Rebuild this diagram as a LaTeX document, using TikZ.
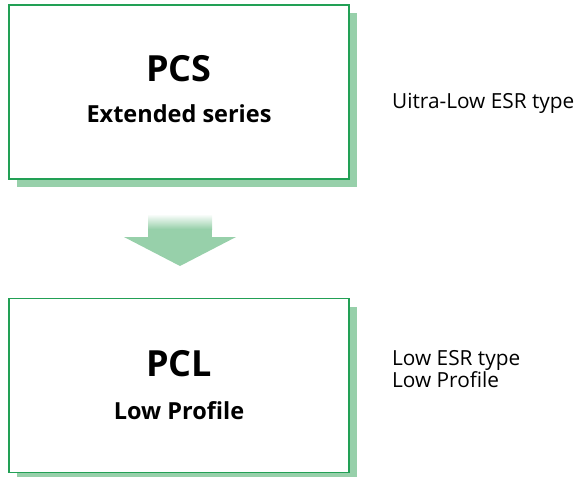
\documentclass[tikz,border=0pt]{standalone}
\usepackage{fontspec}
\setmainfont{Open Sans}
\usepackage{xcolor}
\usetikzlibrary{shadows, positioning}

\definecolor{lineagreen}{HTML}{22A055}
\definecolor{sombragreen}{HTML}{97D0AA}

\tikzset{
  serie/.style={draw=lineagreen, line width=1.3pt, fill=white, minimum width=340pt, minimum height=174pt,
    drop shadow={shadow xshift=8pt, shadow yshift=-8pt, fill=sombragreen, opacity=1}},
  titulo/.style={anchor=base, inner sep=0pt, font=\fontsize{36}{40}\selectfont\bfseries},
  subtitulo/.style={anchor=base, inner sep=0pt, font=\fontsize{23.5}{26}\selectfont\bfseries},
  nota/.style={anchor=base west, inner sep=0pt, align=left, font=\fontsize{20.8}{21.5}\selectfont}
}

\begin{document}
\begin{tikzpicture}[x=1pt, y=-1pt]
			
			\useasboundingbox (0,0) rectangle (579,477);
			
			% Cajas de las series
			\node[serie] (pcs) at (179,92) {};
			\node[serie] (pcl) at (179,385.5) {};
			
			% Flecha
			\shade[top color=white, bottom color=sombragreen] (148,214) rectangle (212,229);
			\fill[sombragreen] (148,228.5) rectangle (212,237.5);
			\fill[sombragreen] (124,237) -- (236,237) -- (180,266) -- cycle;
			
			% Textos de las cajas
			\node[titulo] (pcsT) at (179,81) {PCS};
			\node[subtitulo] (pcsS) at (179,122) {Extended series};
			\node[titulo] (pclT) at (179,376) {PCL};
			\node[subtitulo] (pclS) at (179,419) {Low Profile};
			
			% Notas
			\node[nota] (notaS) at (392,108) {Uitra-Low ESR type};
			\node[nota] (notaL) at (392,387) {Low ESR type\\Low Profile};
			
\end{tikzpicture}
\end{document}
